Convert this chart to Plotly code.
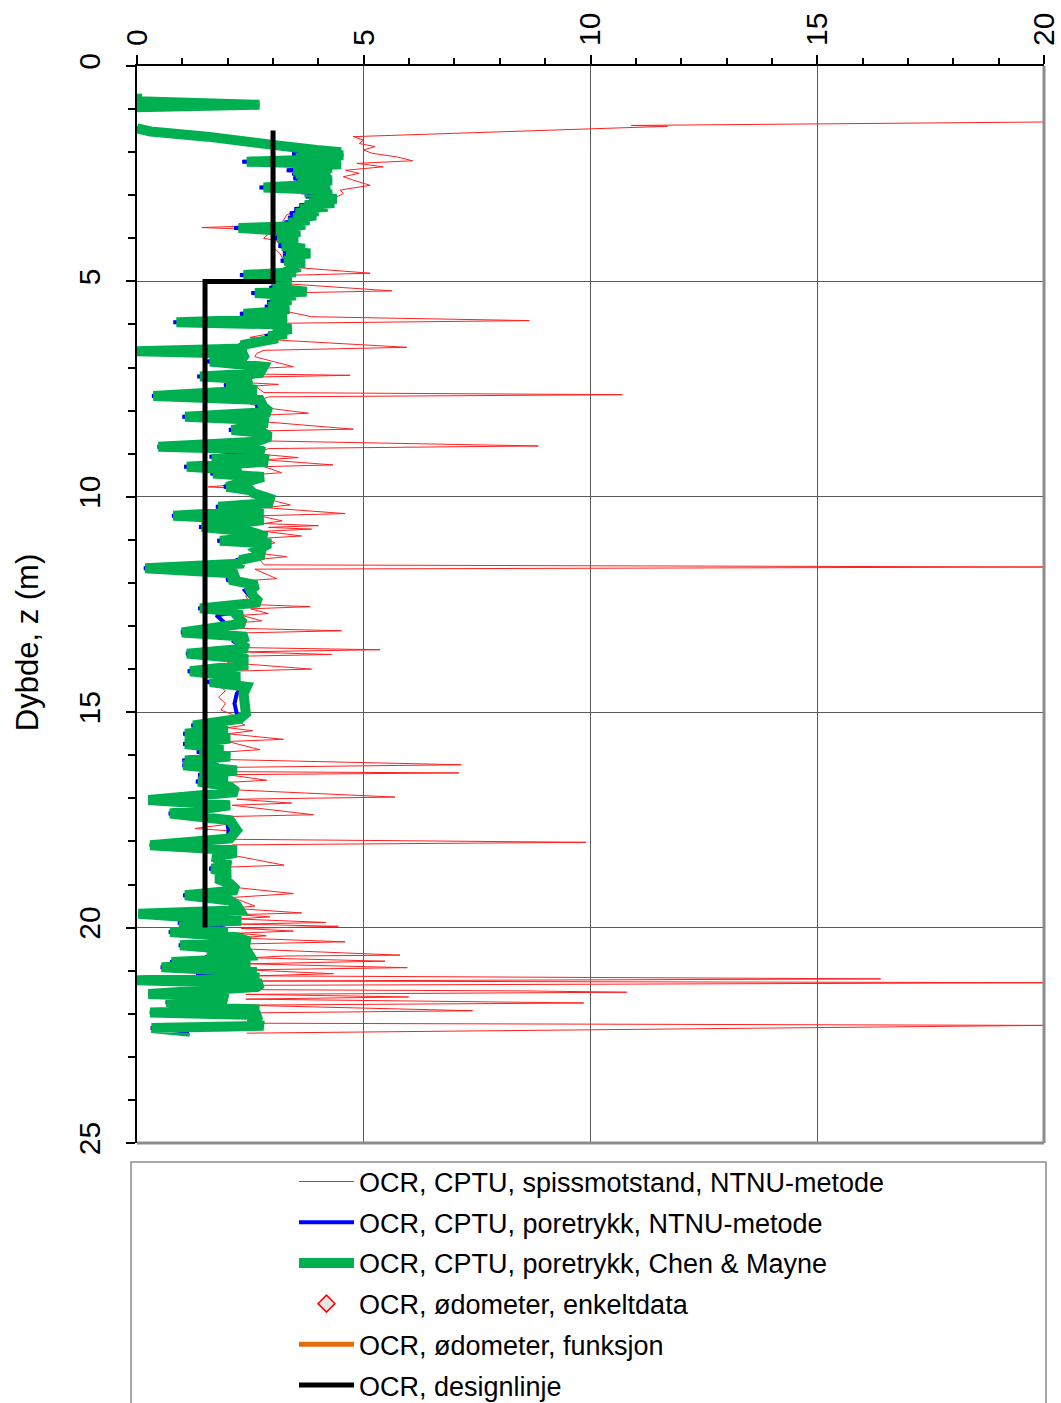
import plotly.graph_objects as go

# ---- OCR profiles (depth in m, OCR dimensionless) ----
# CPTU, pore pressure: Chen & Mayne (green) and NTNU method (blue) share a depth grid
cptu_u_depth = [
    0.65, 0.82, 0.90, 0.96, None,
    1.45, 1.52, 1.64, 1.76, 1.83,
    1.95, 2.00, 2.04, 2.07, 2.11, 2.16, 2.22, 2.28, 2.32, 2.36,
    2.42, 2.46, 2.50, 2.53, 2.57, 2.61, 2.65, 2.70, 2.74, 2.82,
    2.88, 2.93, 2.98, 3.03, 3.08, 3.13, 3.18, 3.23, 3.27, 3.32,
    3.37, 3.42, 3.47, 3.52, 3.58, 3.63, 3.68, 3.72, 3.76, 3.80,
    3.85, 3.90, 3.95, 3.99, 4.04, 4.08, 4.13, 4.18, 4.24, 4.30,
    4.35, 4.40, 4.46, 4.52, 4.57, 4.61, 4.66, 4.73, 4.79, 4.85,
    4.90, 4.95, 5.01, 5.05, 5.09, 5.15, 5.20, 5.24, 5.27, 5.32,
    5.37, 5.43, 5.48, 5.53, 5.59, 5.64, 5.70, 5.75, 5.82, 5.88,
    5.95, 6.00, 6.05, 6.10, 6.17, 6.22, 6.27, 6.32, 6.38, 6.43,
    6.48, 6.56, 6.62,
    6.68, 6.75, 6.86, 6.92, 6.98, 7.13, 7.21,
    7.27, 7.33, 7.41, 7.47, 7.52, 7.66, 7.75, 7.91, 8.03, 8.14,
    8.22, 8.30, 8.45, 8.52, 8.60, 8.72, 8.84, 8.90, 8.95, 9.07,
    9.13, 9.19, 9.30, 9.38, 9.46, 9.54, 9.65, 9.77, 9.85, 9.92,
    10.04, 10.15, 10.23, 10.32, 10.44, 10.50, 10.54, 10.70, 10.81, 10.93,
    11.02, 11.08, 11.12, 11.24, 11.35, 11.47, 11.55, 11.66, 11.78, 11.93,
    12.05, 12.17, 12.32, 12.45, 12.59, 12.67, 12.75, 12.94, 13.15, 13.25,
    13.37, 13.52, 13.64, 13.76, 13.91, 14.05, 14.18, 14.30, 14.41, 14.57,
    14.80, 15.03, 15.15, 15.31, 15.40, 15.50, 15.61, 15.74, 15.84, 15.92,
    16.03, 16.12, 16.18, 16.23, 16.35, 16.46, 16.54, 16.61, 16.73, 16.85,
    17.04, 17.16, 17.35, 17.51, 17.74, 17.93, 18.09, 18.20, 18.28, 18.36,
    18.55, 18.63, 18.75, 18.86, 18.98, 19.13, 19.25, 19.37, 19.48, 19.60,
    19.68, 19.79, 19.84, 19.89, 20.02, 20.10, 20.22, 20.33, 20.41, 20.53,
    20.65, 20.68, 20.72, 20.80, 20.86, 20.92, 21.03, 21.11, 21.16, 21.22,
    21.30, 21.38, 21.54, 21.60, 21.65, 21.73, 21.81, 21.85, 21.90, 21.97,
    22.03, 22.09, 22.20, 22.28, 22.33, 22.42,
]
ocr_chen_mayne = [
    0.0, 0.02, 2.7, 0.0, None,
    0.0, 0.3, 1.55, 2.27, 3.0,
    3.96, 4.5, 3.5, 4.55, 3.7, 4.4, 2.42, 4.5, 3.6, 4.3,
    3.45, 4.1, 3.5, 4.26, 3.7, 3.55, 4.3, 3.6, 4.2, 2.79,
    4.26, 3.7, 4.3, 3.8, 4.4, 3.9, 4.35, 3.7, 4.2, 3.6,
    4.0, 3.5, 3.95, 3.45, 3.8, 3.35, 3.7, 3.5, 2.24, 3.4,
    3.6, 3.15, 3.5, 3.1, 3.55, 3.2, 3.5, 3.2, 3.7, 3.3,
    3.82, 3.3, 3.6, 3.25, 3.7, 3.4, 3.6, 3.3, 3.5, 2.35,
    3.4, 3.1, 3.4, 3.05, 3.3, 3.0, 3.6, 3.74, 2.6, 3.5,
    3.1, 3.4, 2.95, 3.3, 2.9, 3.35, 3.1, 2.35, 3.3, 3.0,
    0.87, 3.3, 3.0, 3.4, 3.1, 3.3, 2.9, 3.1, 2.8, 2.6,
    2.3, 2.4, 0.0,
    2.4, 2.35, 1.61, 2.6, 2.79, 2.71, 1.39,
    2.5, 2.42, 1.98, 2.6, 2.64, 0.36, 2.71, 2.79, 2.93, 1.06,
    2.8, 2.79, 2.09, 2.8, 2.93, 2.64, 0.47, 2.7, 2.79, 1.65,
    2.8, 2.79, 1.1, 2.3, 1.68, 2.79, 2.27, 1.98, 2.5, 2.57,
    2.93, 2.9, 1.79, 2.79, 0.8, 2.7, 2.79, 1.43, 2.5, 2.86,
    1.83, 2.86, 2.86, 2.64, 2.79, 2.27, 2.35, 0.18, 2.2, 2.05,
    2.64, 2.5, 2.57, 2.7, 1.39, 2.3, 2.2, 2.35, 0.99, 2.42,
    2.27, 2.42, 1.1, 2.35, 2.35, 1.17, 2.27, 1.61, 2.42, 2.35,
    2.4, 2.4, 2.27, 1.24, 2.0, 1.06, 2.05, 1.06, 1.9, 1.39,
    2.05, 1.06, 1.8, 1.02, 2.2, 1.39, 2.0, 1.35, 2.05, 2.2,
    0.25, 2.05, 0.73, 2.05, 2.2, 2.05, 0.29, 2.1, 2.1, 1.68,
    2.05, 1.65, 2.05, 1.75, 2.05, 2.2, 1.06, 2.05, 2.2, 2.27,
    0.03, 1.68, 2.3, 0.93, 2.0, 0.73, 2.2, 2.49, 0.95, 2.42,
    2.49, 1.54, 2.3, 0.76, 2.5, 0.54, 2.64, 1.32, 2.7, 0.0,
    2.75, 2.64, 0.25, 1.9, 1.98, 0.65, 1.85, 0.85, 2.7, 0.29,
    2.71, 2.64, 2.49, 2.79, 0.32, 1.17,
]
ocr_u_ntnu = [
    0.0, 0.02, 2.7, 0.0, None,
    0.0, 0.3, 1.5, 2.1, 3.0,
    3.9, 4.5, 3.42, 4.55, 3.62, 4.4, 2.32, 4.5, 3.52, 4.3,
    3.3, 4.1, 3.42, 4.26, 3.62, 3.45, 4.3, 3.52, 4.2, 2.7,
    4.26, 3.62, 4.3, 3.72, 4.4, 3.8, 4.3, 3.58, 4.1, 3.47,
    3.9, 3.37, 3.85, 3.33, 3.7, 3.25, 3.6, 3.42, 2.14, 3.32,
    3.5, 3.07, 3.42, 3.02, 3.47, 3.12, 3.45, 3.12, 3.65, 3.22,
    3.8, 3.22, 3.55, 3.17, 3.65, 3.32, 3.55, 3.22, 3.45, 2.27,
    3.35, 3.02, 3.35, 2.97, 3.25, 2.92, 3.55, 3.7, 2.52, 3.45,
    3.02, 3.35, 2.87, 3.25, 2.82, 3.3, 3.02, 2.27, 3.25, 2.92,
    0.8, 3.25, 2.92, 3.35, 3.02, 3.25, 2.82, 3.0, 2.72, 2.52,
    2.25, 2.35, 0.0,
    2.35, 2.3, 1.55, 2.55, 2.75, 2.65, 1.33,
    2.45, 2.35, 1.92, 2.55, 2.6, 0.33, 2.65, 2.65, 2.85, 1.0,
    2.75, 2.75, 2.03, 2.75, 2.85, 2.55, 0.45, 2.65, 2.75, 1.6,
    2.75, 2.75, 1.04, 2.25, 1.62, 2.75, 2.2, 1.92, 2.45, 2.5,
    2.88, 2.85, 1.74, 2.75, 0.77, 2.65, 2.75, 1.37, 2.45, 2.8,
    1.77, 2.8, 2.8, 2.55, 2.75, 2.18, 2.3, 0.15, 2.15, 1.98,
    2.6, 2.38, 2.5, 2.65, 1.35, 2.25, 1.75, 1.95, 0.97, 2.35,
    2.15, 2.35, 1.08, 2.3, 2.18, 1.12, 2.2, 1.55, 2.3, 2.2,
    2.15, 2.2, 2.2, 1.2, 1.95, 1.02, 2.0, 1.02, 1.85, 1.32,
    2.0, 1.0, 1.75, 1.0, 2.15, 1.35, 1.95, 1.3, 2.0, 2.15,
    0.25, 2.0, 0.7, 1.98, 2.02, 2.0, 0.28, 2.05, 1.8, 1.75,
    2.0, 1.6, 1.98, 1.75, 2.0, 2.15, 1.02, 2.0, 2.15, 2.2,
    0.03, 1.65, 2.25, 0.9, 1.95, 0.7, 2.15, 2.45, 0.92, 2.38,
    2.45, 1.5, 2.25, 0.73, 2.45, 0.52, 2.6, 1.3, 2.65, 0.0,
    2.7, 2.6, 0.25, 1.85, 1.95, 0.63, 1.8, 0.82, 2.65, 0.28,
    2.68, 2.6, 2.45, 2.75, 0.3, 1.15,
]

# CPTU, cone resistance, NTNU method (red)
cptu_q_depth = [
    1.30, 1.38, 1.40, 1.64, 1.72, 1.80, 1.87, 1.95, 2.03, 2.11,
    2.20, 2.26, 2.34, 2.42, 2.49, 2.57, 2.65, 2.77, 2.88, 2.96,
    3.11, 3.27, 3.38, 3.46, 3.58, 3.69, 3.75, 3.81, 4.00, 4.05,
    4.20, 4.35, 4.50, 4.66, 4.81, 4.86, 5.05, 5.22, 5.27, 5.36,
    5.43, 5.55, 5.70, 5.82, 5.91, 5.97, 6.01, 6.20, 6.30, 6.36,
    6.53, 6.60, 6.67, 6.75, 6.98, 7.02, 7.15, 7.18, 7.22, 7.35,
    7.39, 7.43, 7.58, 7.63, 7.68, 7.85, 7.93, 8.06, 8.10, 8.25,
    8.43, 8.47, 8.60, 8.70, 8.82, 8.88, 9.00, 9.09, 9.14, 9.26,
    9.30, 9.44, 9.50, 9.60, 9.70, 9.77, 9.82, 10.00, 10.19, 10.25,
    10.39, 10.44, 10.56, 10.62, 10.67, 10.71, 10.75, 10.80, 10.91, 10.96,
    11.07, 11.15, 11.30, 11.39, 11.45, 11.58, 11.63, 11.68, 11.90, 11.95,
    12.10, 12.30, 12.50, 12.55, 12.60, 12.71, 12.75, 12.88, 12.93, 13.05,
    13.11, 13.16, 13.35, 13.50, 13.55, 13.60, 13.66, 13.70, 13.85, 14.00,
    14.05, 14.20, 14.35, 14.50, 14.65, 14.80, 14.95, 15.05, 15.20, 15.30,
    15.36, 15.43, 15.50, 15.63, 15.68, 15.87, 15.92, 16.10, 16.22, 16.28,
    16.38, 16.41, 16.45, 16.58, 16.63, 16.80, 16.97, 17.02, 17.11, 17.16,
    17.38, 17.42, 17.60, 17.70, 17.75, 17.95, 18.02, 18.08, 18.30, 18.55,
    18.60, 18.75, 18.90, 19.05, 19.21, 19.25, 19.30, 19.50, 19.55, 19.66,
    19.70, 19.75, 19.80, 19.88, 19.92, 19.97, 20.02, 20.08, 20.13, 20.19,
    20.24, 20.33, 20.38, 20.50, 20.64, 20.66, 20.70, 20.78, 20.84, 20.93,
    20.98, 21.07, 21.12, 21.19, 21.24, 21.28, 21.34, 21.44, 21.47, 21.50,
    21.55, 21.61, 21.66, 21.75, 21.80, 21.93, 21.98, 22.10, 22.22, 22.27,
    22.45,
]
ocr_q_ntnu = [
    20.0, 10.9, 11.7, 4.77, 4.99, 4.9, 5.25, 4.99, 5.2, 5.73,
    6.08, 4.85, 5.43, 4.6, 4.9, 4.55, 4.77, 5.14, 4.48, 4.55,
    4.26, 3.82, 3.45, 3.3, 3.23, 3.15, 1.43, 3.0, 2.79, 3.08,
    3.0, 3.15, 3.23, 3.3, 5.14, 3.3, 3.23, 5.62, 3.2, 3.08,
    2.93, 3.0, 3.3, 3.85, 8.65, 3.3, 3.23, 3.0, 2.49, 3.08,
    5.95, 2.8, 2.64, 2.6, 3.45, 2.7, 2.6, 4.7, 2.6, 2.4,
    3.12, 2.6, 2.8, 10.7, 2.9, 2.5, 2.8, 3.78, 2.9, 2.7,
    4.77, 2.8, 2.6, 2.7, 8.85, 2.9, 2.6, 3.56, 2.8, 4.32,
    2.8, 3.19, 2.4, 2.3, 2.4, 1.57, 2.5, 2.7, 3.38, 2.8,
    4.59, 2.7, 3.2, 2.8, 4.0, 2.9, 3.85, 2.8, 3.63, 2.8,
    3.04, 2.7, 2.6, 3.3, 2.7, 2.8, 20.0, 2.6, 3.08, 2.4,
    2.5, 2.4, 2.5, 3.82, 2.5, 2.9, 2.3, 2.75, 2.2, 2.1,
    4.51, 2.3, 2.1, 2.3, 5.36, 2.3, 4.29, 2.3, 2.0, 3.85,
    2.0, 1.85, 1.75, 1.95, 1.8, 1.95, 1.85, 2.1, 2.2, 2.38,
    2.0, 2.55, 2.0, 3.23, 2.0, 2.71, 2.0, 2.0, 7.15, 2.1,
    2.0, 7.1, 2.0, 2.86, 2.0, 2.1, 5.69, 2.2, 3.41, 2.1,
    3.89, 2.1, 2.0, 1.28, 2.0, 2.1, 9.9, 2.1, 2.0, 3.24,
    1.9, 1.8, 1.9, 2.0, 3.45, 2.9, 2.1, 2.6, 2.1, 3.63,
    2.2, 2.93, 2.2, 4.16, 2.3, 4.44, 2.3, 3.45, 2.2, 2.85,
    2.2, 4.59, 2.3, 2.5, 5.8, 3.25, 2.5, 5.47, 2.4, 5.96,
    2.4, 4.33, 2.6, 16.4, 2.7, 20.0, 2.6, 2.4, 8.6, 10.8,
    2.4, 5.99, 2.4, 9.85, 2.3, 7.4, 2.5, 2.6, 2.8, 20.0,
    2.42,
]

# Design line
design_depth = [1.5, 5.0, 5.0, 20.0]
design_ocr = [3.0, 3.0, 1.5, 1.5]

# Oedometer series (no values in this profile)
oedo_points_depth = [None]
oedo_points_ocr = [None]
oedo_func_depth = [None]
oedo_func_ocr = [None]

assert len(cptu_u_depth) == len(ocr_chen_mayne) == len(ocr_u_ntnu)
assert len(cptu_q_depth) == len(ocr_q_ntnu)

x_range = [0, 20]
y_range = [25, 0]

FONT = "Liberation Sans, Arial, sans-serif"

fig = go.Figure()

fig.add_trace(go.Scatter(
    x=ocr_q_ntnu, y=cptu_q_depth, mode="lines",
    name="OCR, CPTU, spissmotstand, NTNU-metode", legendgroup="a",
    line=dict(color="#ff2020", width=1),
))
fig.add_trace(go.Scatter(
    x=ocr_u_ntnu, y=cptu_u_depth, mode="lines",
    name="OCR, CPTU, poretrykk, NTNU-metode", legendgroup="b",
    line=dict(color="#0000ff", width=4),
))
fig.add_trace(go.Scatter(
    x=ocr_chen_mayne, y=cptu_u_depth, mode="lines",
    name="OCR, CPTU, poretrykk, Chen & Mayne", legendgroup="c",
    line=dict(color="#00b050", width=10),
))
fig.add_trace(go.Scatter(
    x=oedo_points_ocr, y=oedo_points_depth, mode="markers",
    name="OCR, ødometer, enkeltdata", legendgroup="d",
    marker=dict(symbol="diamond", size=13, color="#e6e6e6",
                line=dict(color="#ff0000", width=1.5)),
))
fig.add_trace(go.Scatter(
    x=oedo_func_ocr, y=oedo_func_depth, mode="lines",
    name="OCR, ødometer, funksjon", legendgroup="e",
    line=dict(color="#e46c0a", width=5),
))
fig.add_trace(go.Scatter(
    x=design_ocr, y=design_depth, mode="lines",
    name="OCR, designlinje", legendgroup="f",
    line=dict(color="#000000", width=5),
))

fig.update_layout(
    width=1061, height=1403,
    margin=dict(l=137, r=17, t=66, b=260),
    paper_bgcolor="white", plot_bgcolor="white",
    font=dict(family=FONT, color="black"),
    showlegend=True,
    legend=dict(
        xref="paper", yref="container",
        x=0.1731, y=0.175, xanchor="left", yanchor="top",
        font=dict(family=FONT, size=27, color="black"),
        bgcolor="rgba(0,0,0,0)", borderwidth=0,
        tracegroupgap=2.6, itemwidth=55,
    ),
    xaxis=dict(
        range=x_range, side="top", dtick=5, tick0=0,
        showgrid=True, gridcolor="#5a5a5a", gridwidth=1,
        showline=True, linecolor="black", linewidth=2,
        ticks="outside", ticklen=9, tickwidth=1.5, tickcolor="black",
        tickangle=-90, ticklabelstandoff=3,
        tickfont=dict(family=FONT, size=30, color="black"),
        minor=dict(dtick=1, ticks="outside", ticklen=6, tickcolor="black", showgrid=False),
        zeroline=False, fixedrange=True, automargin=False,
    ),
    yaxis=dict(
        range=y_range, dtick=5, tick0=0,
        showgrid=True, gridcolor="#5a5a5a", gridwidth=1,
        showline=True, linecolor="black", linewidth=2,
        ticks="outside", ticklen=9, tickwidth=1.5, tickcolor="black",
        tickangle=-90, ticklabelstandoff=14,
        tickfont=dict(family=FONT, size=30, color="black"),
        minor=dict(dtick=1, ticks="outside", ticklen=7, tickcolor="black", showgrid=False),
        zeroline=False, fixedrange=True, automargin=False,
    ),
    shapes=[
        # right and bottom frame edges
        dict(type="line", xref="paper", yref="paper", x0=1, x1=1, y0=0, y1=1,
             line=dict(color="#8c8c8c", width=3)),
        dict(type="line", xref="paper", yref="paper", x0=0, x1=1, y0=0, y1=0,
             line=dict(color="#8c8c8c", width=3)),
        # legend frame
        dict(type="rect", xref="paper", yref="paper", x0=-0.0066, x1=1.0022,
             y0=-0.0176, y1=-0.30, line=dict(color="#8c8c8c", width=1.5)),
    ],
    annotations=[
        dict(text="Dybde, z (m)", xref="paper", yref="paper", x=-0.1213, y=0.465,
             textangle=-90, showarrow=False, xanchor="center", yanchor="middle",
             font=dict(family=FONT, size=31, color="black")),
    ],
)

fig.write_html("out.html")
